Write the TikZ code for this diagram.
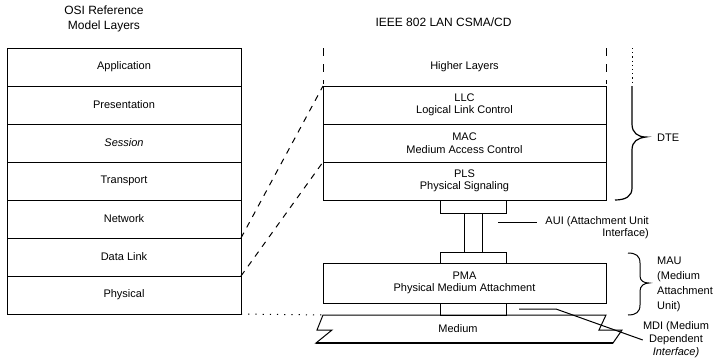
\documentclass[tikz,border=0pt]{standalone}
\usepackage{fontspec}
\setmainfont{Liberation Sans}
\usetikzlibrary{positioning, calc}

\begin{document}
\begin{tikzpicture}[x=1pt, y=-1pt,
        layer/.style={draw, line width=1pt, minimum width=234pt, minimum height=38pt, inner sep=0pt, outer sep=0pt, font=\fontsize{11}{12.5}\selectfont},
        sublayer/.style={layer, minimum width=283pt, align=center},
        block/.style={draw, line width=1pt, minimum width=66pt, inner sep=0pt, outer sep=0pt},
        title/.style={font=\fontsize{12}{15}\selectfont, align=center},
        lbl/.style={font=\fontsize{11}{13}\selectfont, inner sep=0pt},
        link/.style={line width=1pt, dash pattern=on 6pt off 6pt},
        wire/.style={line width=1pt},
        node distance=0pt
    ]
        \useasboundingbox (0,0) rectangle (713,357);

        % OSI stack
        \node[title] (osititle) at (104,19) {OSI Reference\\Model Layers};
        \node[layer] (app) at (124,67) {Application};
        \node[layer, below=of app] (pres) {Presentation};
        \node[layer, below=of pres] (sess) {\itshape Session};
        \node[layer, below=of sess] (trans) {Transport};
        \node[layer, below=of trans] (net) {Network};
        \node[layer, below=of net] (dl) {Data Link};
        \node[layer, below=of dl] (phys) {Physical};

        % IEEE 802 stack
        \node[title, anchor=west] (ieeetitle) at (372,22) {IEEE 802 LAN CSMA/CD};
        \node[sublayer, draw=none] (higher) at (464.5,67) {Higher Layers};
        \node[sublayer, below=of higher] (llc) {LLC\\Logical Link Control};
        \node[sublayer, below=of llc] (mac) {MAC\\Medium Access Control};
        \node[sublayer, below=of mac] (pls) {PLS\\Physical Signaling};
        \node[block, minimum height=13pt, below=of pls, xshift=8.5pt] (aui1) {};
        \node[block, minimum width=18pt, minimum height=39pt, below=of aui1] (cable) {};
        \node[block, minimum height=11pt, below=of cable] (aui2) {};
        \node[sublayer, minimum height=40pt, below=of aui2, xshift=-8.5pt] (pma) {PMA\\Physical Medium Attachment};
        \node[block, minimum height=12pt, below=of pma, xshift=8.5pt] (mdiblk) {};

        \draw[link, dash pattern=on 8pt off 8pt] (higher.north west) -- ([yshift=2pt]higher.south west);
        \draw[link, dash pattern=on 8pt off 8pt] (higher.north east) -- ([yshift=2pt]higher.south east);

        % medium
        \coordinate (medtl) at (323,315);
        \draw[wire] (medtl) -- (317,330) -- (332,330) -- (316,343) -- (613,343) -- (622,330) -- (599,330) -- (606,315) -- cycle;
        \draw[line width=1.4pt] (316,343) -- (613,343);
        \node[lbl] (medium) at (458,329) {Medium};

        % mapping between the stacks
        \draw[link] (net.south east) -- (llc.north west);
        \draw[link] (dl.south east) -- (mac.south west);
        \draw[wire, dash pattern=on 1.2pt off 6pt] (phys.south east) -- (medtl);

        % DTE brace
        \coordinate (dtetop) at (632,48);
        \coordinate (dtetip) at (646,137);
        \draw[wire, dash pattern=on 1.2pt off 3pt] (dtetop) -- (632,85);
        \draw[line width=1.2pt] (632,86) -- (632,124) .. controls (632,133) and (638,137) .. (dtetip)
            .. controls (638,138) and (632,141) .. (632,150) -- (632,188)
            .. controls (632,196) and (626,200) .. (615,200);
        \node[lbl, anchor=west] (dte) at (657,138) {DTE};

        % AUI
        \coordinate (auiA) at (498,222);
        \coordinate (auiB) at (537,222);
        \draw[wire] (auiA) -- (auiB);
        \node[lbl, align=right, anchor=east, font=\fontsize{11}{12}\selectfont] (auilbl) at (649,228) {AUI (Attachment Unit\\Interface)};

        % MAU brace
        \coordinate (mautip) at (649,283);
        \draw[wire] (628,253) .. controls (636,253) and (640,256) .. (640,263) -- (640,276)
            .. controls (640,281) and (644,283) .. (mautip)
            .. controls (644,283) and (640,286) .. (640,291) -- (640,305)
            .. controls (640,312) and (636,315) .. (628,315);
        \node[lbl, align=left, anchor=west, font=\fontsize{11}{15}\selectfont] (maulbl) at (657,284.5) {MAU\\(Medium\\Attachment\\Unit)};

        % MDI
        \coordinate (mdiA) at (519,309);
        \node[lbl, align=center] (mdilbl) at (676,340) {MDI (Medium\\Dependent\\\textit{Interface)}};
        \draw[wire] (mdiA) -- (556,309) -- (mdilbl.west);
\end{tikzpicture}
\end{document}
